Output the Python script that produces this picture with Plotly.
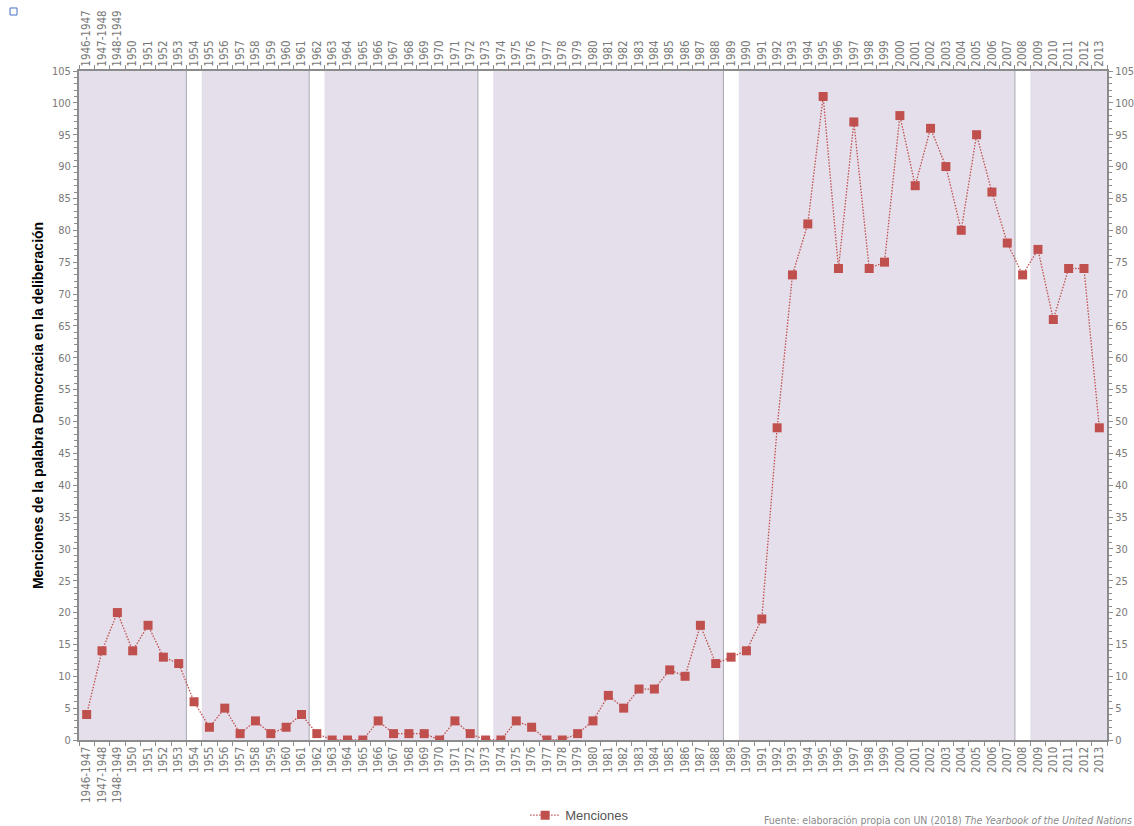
import plotly.graph_objects as go

categories = ["1946-1947", "1947-1948", "1948-1949"] + [str(y) for y in range(1950, 2014)]
menciones = [4, 14, 20, 14, 18, 13, 12, 6, 2, 5, 1, 3, 1, 2, 4, 1, 0, 0, 0, 3, 1, 1, 1, 0, 3, 1,
             0, 0, 3, 2, 0, 0, 1, 3, 7, 5, 8, 8, 11, 10, 18, 12, 13, 14, 19, 49, 73, 81, 101, 74,
             97, 74, 75, 98, 87, 96, 90, 80, 95, 86, 78, 73, 77, 66, 74, 74, 49]
band_first = ["1946-1947", "1955", "1963", "1974", "1990", "2009"]
band_last = ["1953", "1961", "1972", "1988", "2007", "2013"]

RED = "#C0504D"
FONT = "DejaVu Sans Condensed, Liberation Sans Narrow, Liberation Sans, Arial"
TICKC = "#7a7a7a"
AXC = "#8c8c8c"

fig = go.Figure()
fig.add_trace(go.Scatter(
    x=categories, y=menciones, mode="lines+markers", name="Menciones",
    line=dict(color=RED, width=1.3, dash="1.5px,1.5px"),
    marker=dict(symbol="square", size=9, color=RED),
    xaxis="x", yaxis="y"))
fig.add_trace(go.Scatter(
    x=categories, y=menciones, mode="markers", showlegend=False, hoverinfo="skip",
    marker=dict(opacity=0), xaxis="x2", yaxis="y2"))

shapes = []
for f, l in zip(band_first, band_last):
    i0 = categories.index(f) - 0.5
    i1 = categories.index(l) + 0.5
    shapes.append(dict(type="rect", xref="x", yref="y", x0=i0, x1=i1, y0=0, y1=105,
                       fillcolor="#E4DFEB", line=dict(width=0), layer="below"))
    if l != categories[-1]:
        shapes.append(dict(type="line", xref="x", yref="y", x0=i1, x1=i1, y0=0, y1=105,
                           line=dict(color="#a8a8b0", width=1), layer="below"))
shapes.append(dict(type="rect", xref="paper", yref="paper", x0=-0.0671, x1=-0.0603,
                   y0=1.0837, y1=1.0942, line=dict(color="#4472C4", width=1),
                   fillcolor="white"))

xcommon = dict(type="category", range=[-0.5, len(categories) - 0.5], tickson="boundaries",
               ticks="outside", ticklen=4, tickcolor=AXC, showline=True, linecolor=AXC,
               linewidth=2, tickangle=-90, tickfont=dict(family=FONT, size=11.5, color=TICKC),
               showgrid=False, zeroline=False, automargin=False)
ycommon = dict(range=[0, 105], dtick=5, ticks="outside", ticklen=4, tickcolor=AXC,
               showline=True, linecolor=AXC, linewidth=2, showgrid=False, zeroline=False,
               tickfont=dict(family=FONT, size=11, color=TICKC), automargin=False,
               minor=dict(dtick=1, ticks="outside", ticklen=3, tickcolor=AXC))

fig.update_layout(
    width=1134, height=826,
    margin=dict(l=79, r=27, t=71, b=86),
    plot_bgcolor="white", paper_bgcolor="white",
    font=dict(family=FONT),
    xaxis=dict(**xcommon, side="bottom"),
    xaxis2=dict(**xcommon, side="top", overlaying="x", matches="x"),
    yaxis=dict(**ycommon, side="left",
               title=dict(text="<b>Menciones de la palabra Democracia en la deliberación</b>",
                          font=dict(family="Liberation Sans, Arial", size=14, color="black"),
                          standoff=5)),
    yaxis2=dict(**ycommon, side="right", overlaying="y", matches="y"),
    shapes=shapes,
    showlegend=True,
    legend=dict(orientation="h", x=0.487, xanchor="center", yref="container", y=0.013,
                yanchor="middle",
                font=dict(family="Liberation Sans, Arial", size=13, color="#555")),
    annotations=[dict(xref="paper", yref="paper", x=1.026, y=-0.12, xanchor="right",
                      yanchor="middle", showarrow=False,
                      text="Fuente: elaboración propia con UN (2018) <i>The Yearbook of the United Nations</i>",
                      font=dict(family=FONT, size=10.5, color="#8a8a8a"))],
)

fig.write_html("out.html", config={"displayModeBar": False},
               post_script="document.body.style.margin='0';document.body.style.overflow='hidden';")
